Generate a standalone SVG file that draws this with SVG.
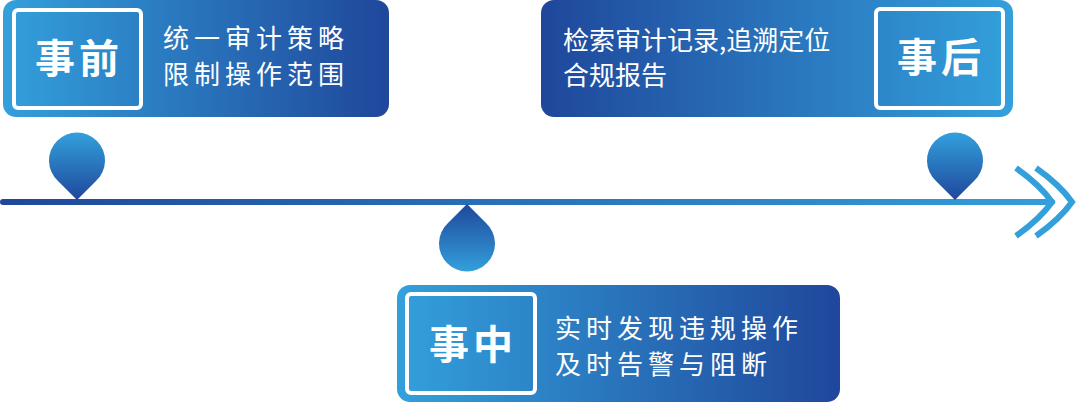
<svg xmlns="http://www.w3.org/2000/svg" width="1080" height="405" viewBox="0 0 1080 405">
<defs>
<linearGradient id="gL" x1="0" x2="1" y1="0" y2="0"><stop offset="0" stop-color="#33a0dc"/><stop offset="1" stop-color="#1f479b"/></linearGradient>
<linearGradient id="gR" x1="0" x2="1" y1="0" y2="0"><stop offset="0" stop-color="#1f479b"/><stop offset="1" stop-color="#33a0dc"/></linearGradient>
<linearGradient id="gPin" x1="0" x2="0" y1="0" y2="1"><stop offset="0" stop-color="#33a0dc"/><stop offset="1" stop-color="#1f479b"/></linearGradient>
<linearGradient id="gPinUp" x1="0" x2="0" y1="0" y2="1"><stop offset="0" stop-color="#1f479b"/><stop offset="1" stop-color="#33a0dc"/></linearGradient>
<linearGradient id="gLine" x1="0" x2="1080" y1="0" y2="0" gradientUnits="userSpaceOnUse"><stop offset="0" stop-color="#1f479b"/><stop offset="1" stop-color="#33a0dc"/></linearGradient>
<style>
.inner{fill:none;stroke:#fff;stroke-width:4}
.tag{fill:#fff;font-family:"Noto Sans CJK SC",sans-serif;font-weight:bold;font-size:40px;text-anchor:middle;letter-spacing:4px}
.desc{fill:#fff;font-family:"Noto Sans CJK SC",sans-serif;font-size:26px;letter-spacing:5px}
</style>
</defs>
<g id="connectors">
<line x1="3" y1="202" x2="1052" y2="202" stroke="url(#gLine)" stroke-width="6" stroke-linecap="round"/>
<path d="M1016 168 Q1040 185 1052 202 Q1040 219 1016 236" fill="none" stroke="#33a0dc" stroke-width="6"/>
<path d="M1036 168 Q1060 185 1072 202 Q1060 219 1036 236" fill="none" stroke="#33a0dc" stroke-width="6"/>
</g>
<g id="pin1"><path d="M77 200 L58 181 A28 28 0 1 1 96 181 Z" fill="url(#gPin)"/></g>
<g id="pin3"><path d="M955 200 L936 181 A28 28 0 1 1 974 181 Z" fill="url(#gPin)"/></g>
<g id="pin2"><path d="M467 204 L486 223 A28 28 0 1 1 448 223 Z" fill="url(#gPinUp)"/></g>
<g id="before">
<rect x="3" y="0" width="386" height="117" rx="13" fill="url(#gL)"/>
<rect x="14" y="10" width="127" height="98" rx="4" class="inner"/>
<text x="79" y="73" class="tag">事前</text>
<text x="163" y="48" class="desc">统一审计策略</text>
<text x="163" y="84" class="desc">限制操作范围</text>
</g>
<g id="after">
<rect x="541" y="0" width="472" height="117" rx="13" fill="url(#gR)"/>
<rect x="876" y="9" width="127" height="99" rx="4" class="inner"/>
<text x="941" y="72" class="tag">事后</text>
<text x="563" y="50" class="desc" style="letter-spacing:0">检索审计记录,追溯定位</text>
<text x="563" y="85" class="desc" style="letter-spacing:0">合规报告</text>
</g>
<g id="during">
<rect x="397" y="285" width="443" height="117" rx="13" fill="url(#gL)"/>
<rect x="407" y="294" width="128" height="99" rx="4" class="inner"/>
<text x="473" y="359" class="tag">事中</text>
<text x="555" y="338" class="desc">实时发现违规操作</text>
<text x="555" y="374" class="desc">及时告警与阻断</text>
</g>
</svg>
